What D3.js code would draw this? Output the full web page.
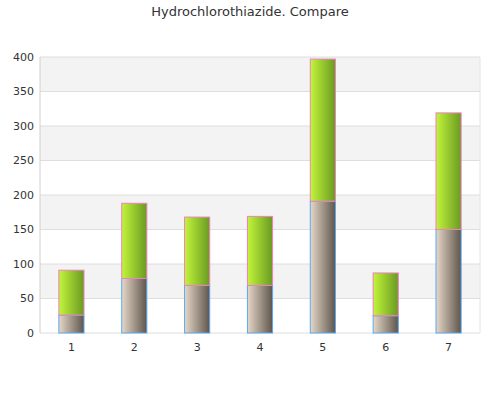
<!DOCTYPE html>
<html><head><meta charset="utf-8">
<script src="https://cdn.jsdelivr.net/npm/d3@7"></script>
<style>body{margin:0;background:#fff}</style></head>
<body><div id="chart"></div>
<script>
const categories = ["1","2","3","4","5","6","7"];
const baseValues = [26, 79, 69, 69, 191, 25, 150];
const topValues = [65, 109, 99, 100, 206, 62, 169];
const yTicks = [0,50,100,150,200,250,300,350,400];

const W = 500, H = 400;
const m = {left: 40, right: 20, top: 57, bottom: 67};
const svg = d3.select("#chart").append("svg").attr("width", W).attr("height", H)
  .style("font-family", "'DejaVu Sans', sans-serif");

const x = d3.scaleBand(categories, [m.left, W - m.right]).paddingInner(0.6).paddingOuter(0.3);
const y = d3.scaleLinear([0, 400], [H - m.bottom, m.top]);

const defs = svg.append("defs");
function grad(id, c1, c2) {
  const g = defs.append("linearGradient").attr("id", id).attr("x1", "0").attr("x2", "1");
  g.append("stop").attr("offset", "0").attr("stop-color", c1);
  g.append("stop").attr("offset", "1").attr("stop-color", c2);
}
grad("gBase", "#e6d8c8", "#5e554c");
grad("gTop", "#c2f53a", "#6a9a22");

// alternating bands
for (let i = 0; i < yTicks.length - 1; i++) {
  if (i % 2 === 1) svg.append("rect").attr("x", m.left).attr("width", W - m.left - m.right)
    .attr("y", y(yTicks[i + 1])).attr("height", y(yTicks[i]) - y(yTicks[i + 1])).attr("fill", "#f3f3f3");
}
svg.append("g").selectAll("line").data(yTicks).join("line")
  .attr("x1", m.left).attr("x2", W - m.right).attr("y1", d => y(d)).attr("y2", d => y(d))
  .attr("stroke", "#dedede");
svg.append("line").attr("x1", m.left).attr("x2", m.left).attr("y1", m.top).attr("y2", y(0)).attr("stroke", "#d0d0d0");
svg.append("line").attr("x1", W - m.right).attr("x2", W - m.right).attr("y1", m.top).attr("y2", y(0)).attr("stroke", "#e4e4e4");

svg.append("g").selectAll("text").data(yTicks).join("text")
  .attr("x", m.left - 6).attr("y", d => y(d)).attr("dy", "0.35em").attr("text-anchor", "end")
  .attr("font-size", 11).attr("fill", "#333").text(d => d);
svg.append("g").selectAll("text").data(categories).join("text")
  .attr("x", d => x(d) + x.bandwidth() / 2).attr("y", y(0) + 18).attr("text-anchor", "middle")
  .attr("font-size", 11).attr("fill", "#333").text(d => d);

svg.append("g").selectAll("rect").data(categories).join("rect")
  .attr("x", d => x(d)).attr("width", x.bandwidth())
  .attr("y", (d, i) => y(baseValues[i])).attr("height", (d, i) => y(0) - y(baseValues[i]))
  .attr("fill", "url(#gBase)").attr("stroke", "#5aa8f0").attr("stroke-width", 1);
svg.append("g").selectAll("rect").data(categories).join("rect")
  .attr("x", d => x(d)).attr("width", x.bandwidth())
  .attr("y", (d, i) => y(baseValues[i] + topValues[i])).attr("height", (d, i) => y(baseValues[i]) - y(baseValues[i] + topValues[i]))
  .attr("fill", "url(#gTop)").attr("stroke", "#f080c0").attr("stroke-width", 1);

svg.append("text").attr("x", W / 2).attr("y", 16).attr("text-anchor", "middle")
  .attr("font-size", 13).attr("fill", "#333").text("Hydrochlorothiazide. Compare");
</script></body></html>
